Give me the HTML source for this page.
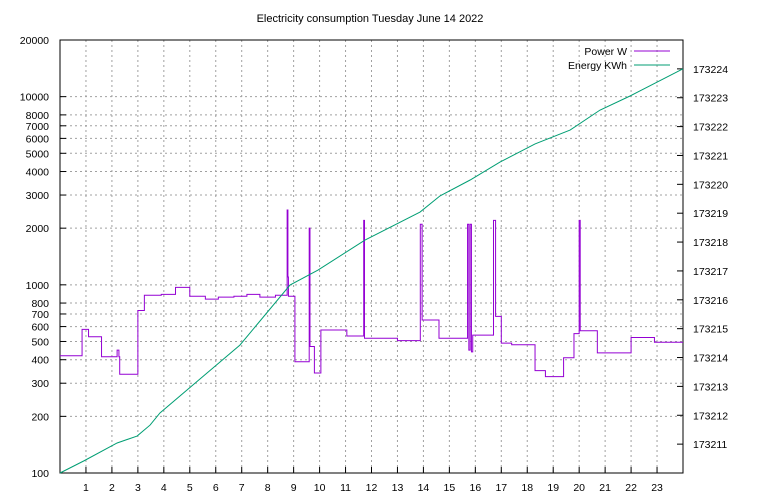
<!DOCTYPE html>
<html><head><meta charset="utf-8"><style>
body{margin:0;background:#fff}
svg{display:block;font-family:"Liberation Sans",sans-serif;font-size:10.5px}
</style></head><body>
<svg width="768" height="500" id="c">
<text x="370" y="22" text-anchor="middle" font-size="11">Electricity consumption Tuesday June 14 2022</text>
<g id="grid"></g><g id="axes"></g><g id="series"></g>
<g>
<text x="627" y="55" text-anchor="end">Power W</text>
<line x1="634" y1="51" x2="670" y2="51" stroke="#9400d3"/>
<text x="627" y="69" text-anchor="end">Energy KWh</text>
<line x1="634" y1="65" x2="670" y2="65" stroke="#009e73"/>
</g>
</svg>
<script>
const xTicks=[1,2,3,4,5,6,7,8,9,10,11,12,13,14,15,16,17,18,19,20,21,22,23];
const yTicks=[100,200,300,400,500,600,700,800,1000,2000,3000,4000,5000,6000,7000,8000,10000,20000];
const y2Ticks=[173211,173212,173213,173214,173215,173216,173217,173218,173219,173220,173221,173222,173223,173224];
const powerT=[0,0.85,1.1,1.6,2.2,2.27,2.3,3.0,3.25,3.9,4.45,5.0,5.6,6.1,6.7,7.2,7.7,8.3,8.75,8.78,8.8,9.05,9.6,9.63,9.65,9.8,10.05,11.05,11.7,11.73,11.75,13.0,13.88,13.95,14.6,15.7,15.75,15.8,15.85,15.9,16.7,16.78,17.0,17.4,18.3,18.7,19.4,19.8,20.0,20.04,20.7,22.0,22.9,24];
const powerV=[420,580,530,415,450,415,335,730,880,890,970,870,840,860,870,890,860,880,2500,1100,870,390,2000,470,470,340,575,535,2200,520,520,505,2100,650,520,2100,450,2100,440,540,2200,680,490,480,350,325,410,550,2200,570,435,525,495,495];
const energyT=[0,0.92,2.2,2.97,3.47,3.85,6.93,8.86,9.94,11.75,13.87,14.64,15.8,16.95,18.3,19.65,20.8,21.96,24];
const energyV=[173210,173210.42,173211.04,173211.28,173211.66,173212.08,173214.43,173216.51,173217.03,173218.07,173219.04,173219.6,173220.15,173220.77,173221.4,173221.88,173222.57,173223.06,173224.0];
const L=60,R=683,T=40,B=473;
const xs=h=>L+(R-L)*h/24;
const ys=v=>B-(B-T)*Math.log10(v/100)/Math.log10(200);
const y2=v=>B-(B-T)*(v-173210)/15;
const NS="http://www.w3.org/2000/svg";
function mk(p,tag,a){const e=document.createElementNS(NS,tag);for(const k in a)e.setAttribute(k,a[k]);document.getElementById(p).appendChild(e);return e;}
for(const h of xTicks){
 const g=mk('grid','line',{x1:xs(h),x2:xs(h),y1:T,y2:B,stroke:'#a0a0a0','stroke-dasharray':'2,3'});
 
 
 const t=mk('axes','text',{x:xs(h),y:B+18,'text-anchor':'middle'});t.textContent=h;
 
 
 mk('axes','line',{x1:xs(h),x2:xs(h),y1:B,y2:B-6,stroke:'#000'});
}
for(const v of yTicks){
 const y=ys(v);
 const g=mk('grid','line',{x1:L,x2:R,y1:y,y2:y,stroke:'#a0a0a0','stroke-dasharray':'2,3'});
 
 
 const t=mk('axes','text',{x:L-11,y:y+4,'text-anchor':'end'});t.textContent=v;
 
 
 mk('axes','line',{x1:L,x2:L+6,y1:y,y2:y,stroke:'#000'});
}
for(const v of y2Ticks){
 const y=y2(v);
 const t=mk('axes','text',{x:R+10,y:y+4});t.textContent=v;
 
 
 mk('axes','line',{x1:R,x2:R-6,y1:y,y2:y,stroke:'#000'});
}
const fr=mk('axes','rect',{x:L,y:T,width:R-L,height:B-T,fill:'none',stroke:'#000'});


let d='';
for(let i=0;i<powerT.length;i++){
 const x=xs(powerT[i]),y=ys(powerV[i]);
 if(i===0)d+='M'+x+','+y;else d+='H'+x+'V'+y;
}
const pp=mk('series','path',{d:d,fill:'none',stroke:'#9400d3','stroke-width':1});


let d2='';
energyT.forEach((t,i)=>{d2+=(i?'L':'M')+xs(t)+','+y2(energyV[i]);});
const ep=mk('series','path',{d:d2,fill:'none',stroke:'#009e73','stroke-width':1});


</script>
</body></html>
